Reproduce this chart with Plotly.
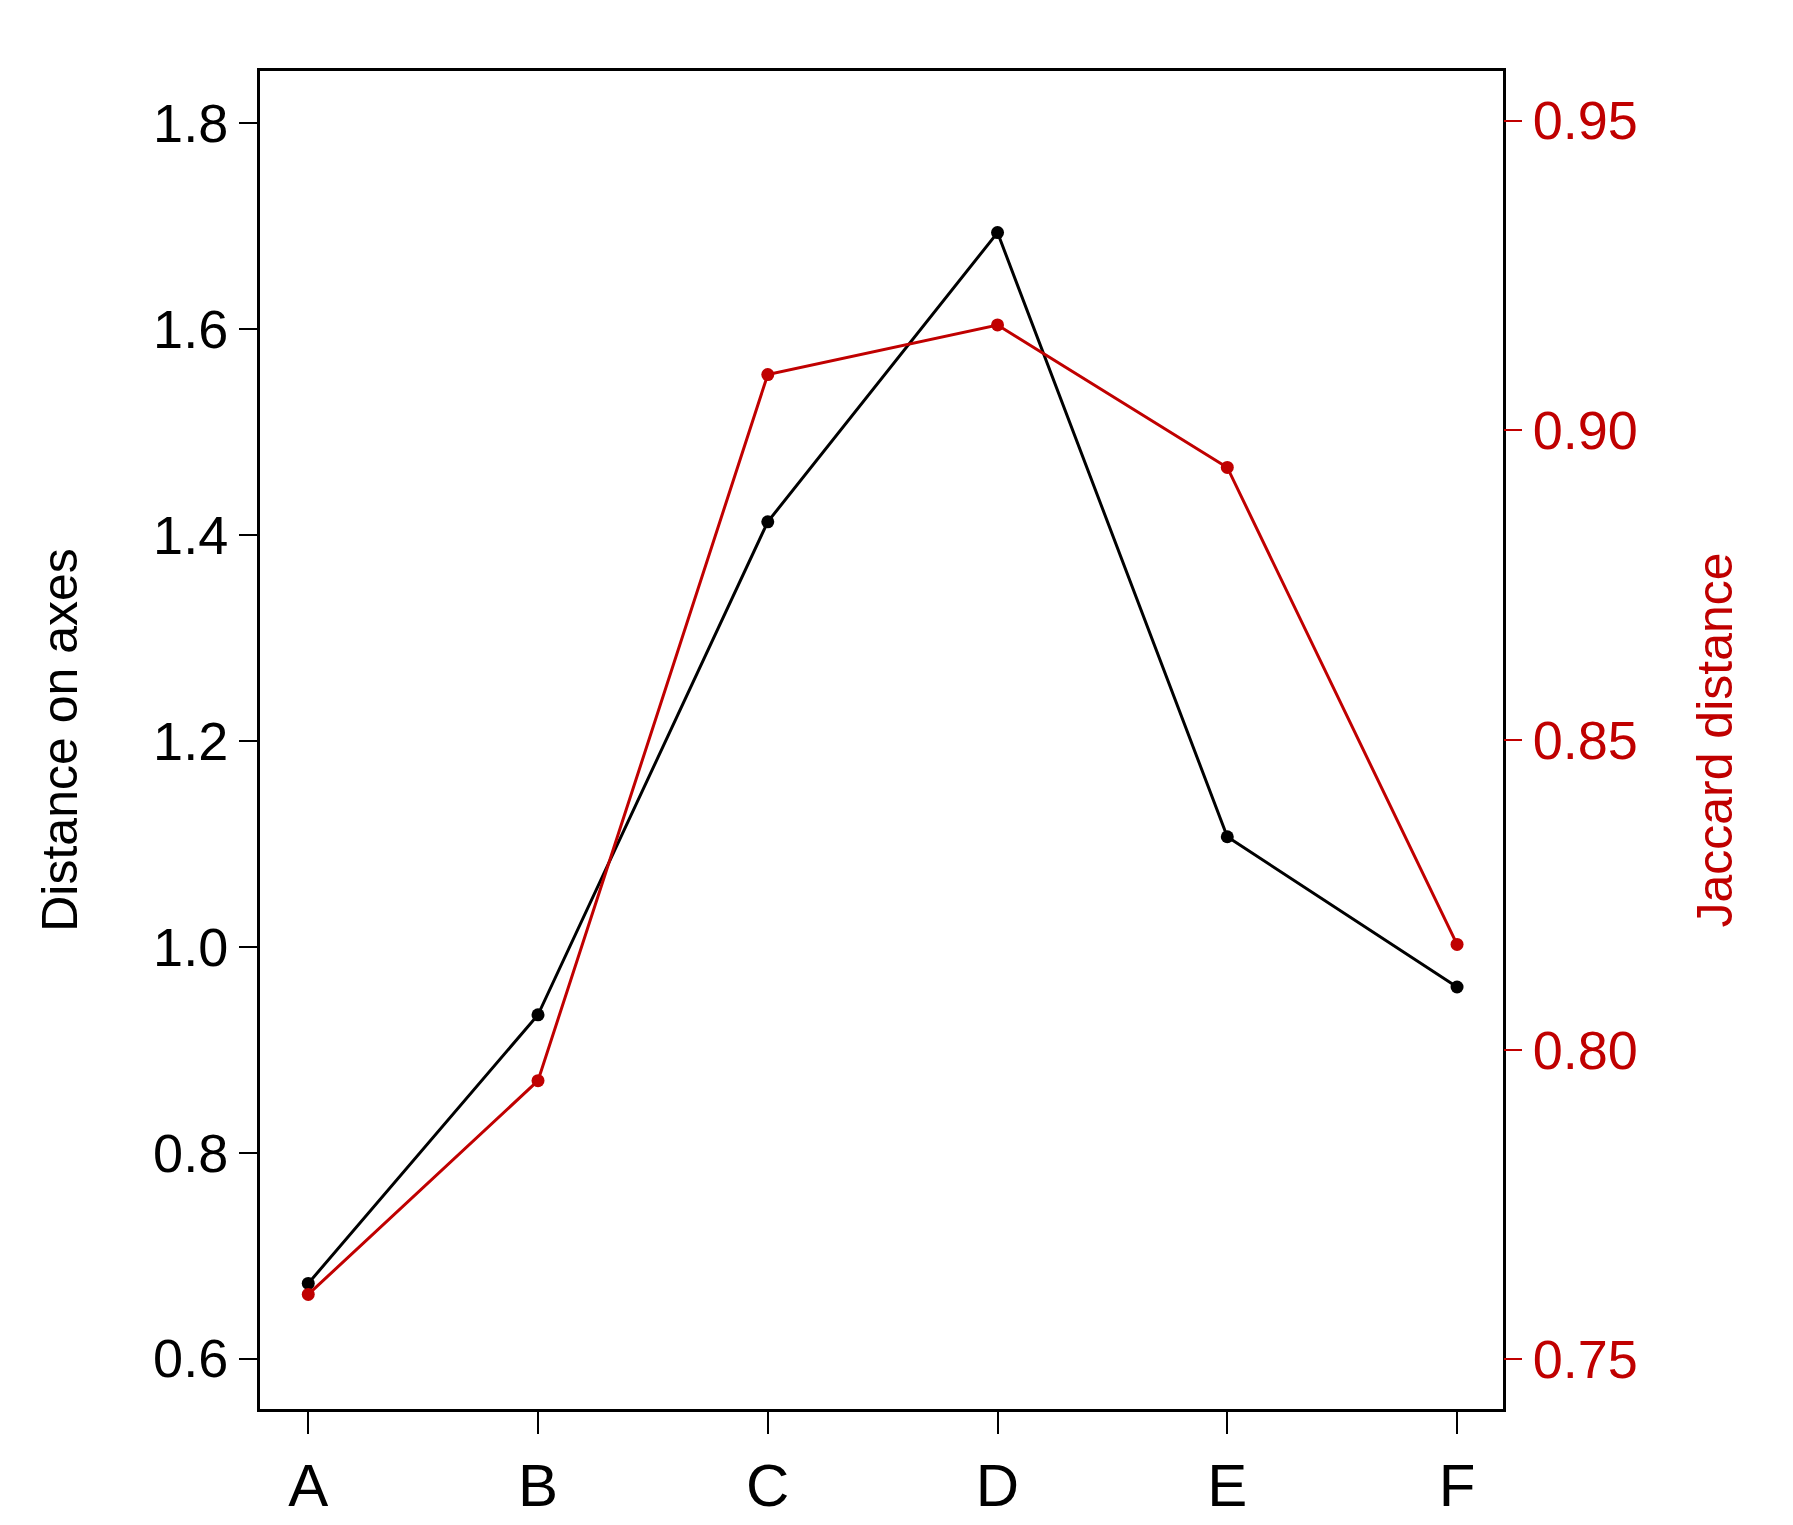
import plotly.graph_objects as go

categories = ["A", "B", "C", "D", "E", "F"]
dist_axes = [0.673, 0.934, 1.413, 1.694, 1.107, 0.961]
jaccard = [0.7605, 0.795, 0.909, 0.917, 0.894, 0.817]
left_ticks = [0.6, 0.8, 1.0, 1.2, 1.4, 1.6, 1.8]
right_ticks = [0.75, 0.80, 0.85, 0.90, 0.95]

red = "#c00000"
x = list(range(len(categories)))
fig = go.Figure()
fig.add_trace(go.Scatter(x=x, y=dist_axes, mode="lines+markers",
                         line=dict(color="black", width=3), marker=dict(size=13, color="black")))
fig.add_trace(go.Scatter(x=x, y=jaccard, mode="lines+markers", yaxis="y2",
                         line=dict(color=red, width=3), marker=dict(size=13, color=red)))
ff = "Liberation Sans, Arial"
fig.update_layout(
    width=1793, height=1525, showlegend=False,
    plot_bgcolor="white", paper_bgcolor="white",
    margin=dict(l=252, r=298, t=63, b=124),
    xaxis=dict(range=[-0.21, 5.2], tickvals=x, ticktext=categories, showgrid=False,
               zeroline=False, ticks="outside", ticklen=22, tickwidth=2, tickcolor="black",
               showline=True, linecolor="black", linewidth=3, mirror=True,
               tickfont=dict(family=ff, size=60, color="black")),
    yaxis=dict(range=[0.551, 1.851], tickvals=left_ticks, ticktext=[f"{v:.1f}" for v in left_ticks],
               showgrid=False, zeroline=False, ticks="outside", ticklen=18, tickwidth=2,
               tickcolor="black", showline=True, linecolor="black", linewidth=3, mirror=True,
               tickfont=dict(family=ff, size=54, color="black"),
               title=dict(text="Distance on axes", font=dict(family=ff, size=50, color="black"), standoff=60)),
    yaxis2=dict(range=[0.742, 0.958], overlaying="y", side="right", tickvals=right_ticks,
                ticktext=[f"{v:.2f}" for v in right_ticks], showgrid=False, zeroline=False,
                ticks="outside", ticklen=18, tickwidth=2, tickcolor=red, showline=False,
                tickfont=dict(family=ff, size=54, color=red),
                title=dict(text="Jaccard distance", font=dict(family=ff, size=50, color=red), standoff=60)),
)
fig.write_html("out.html")
